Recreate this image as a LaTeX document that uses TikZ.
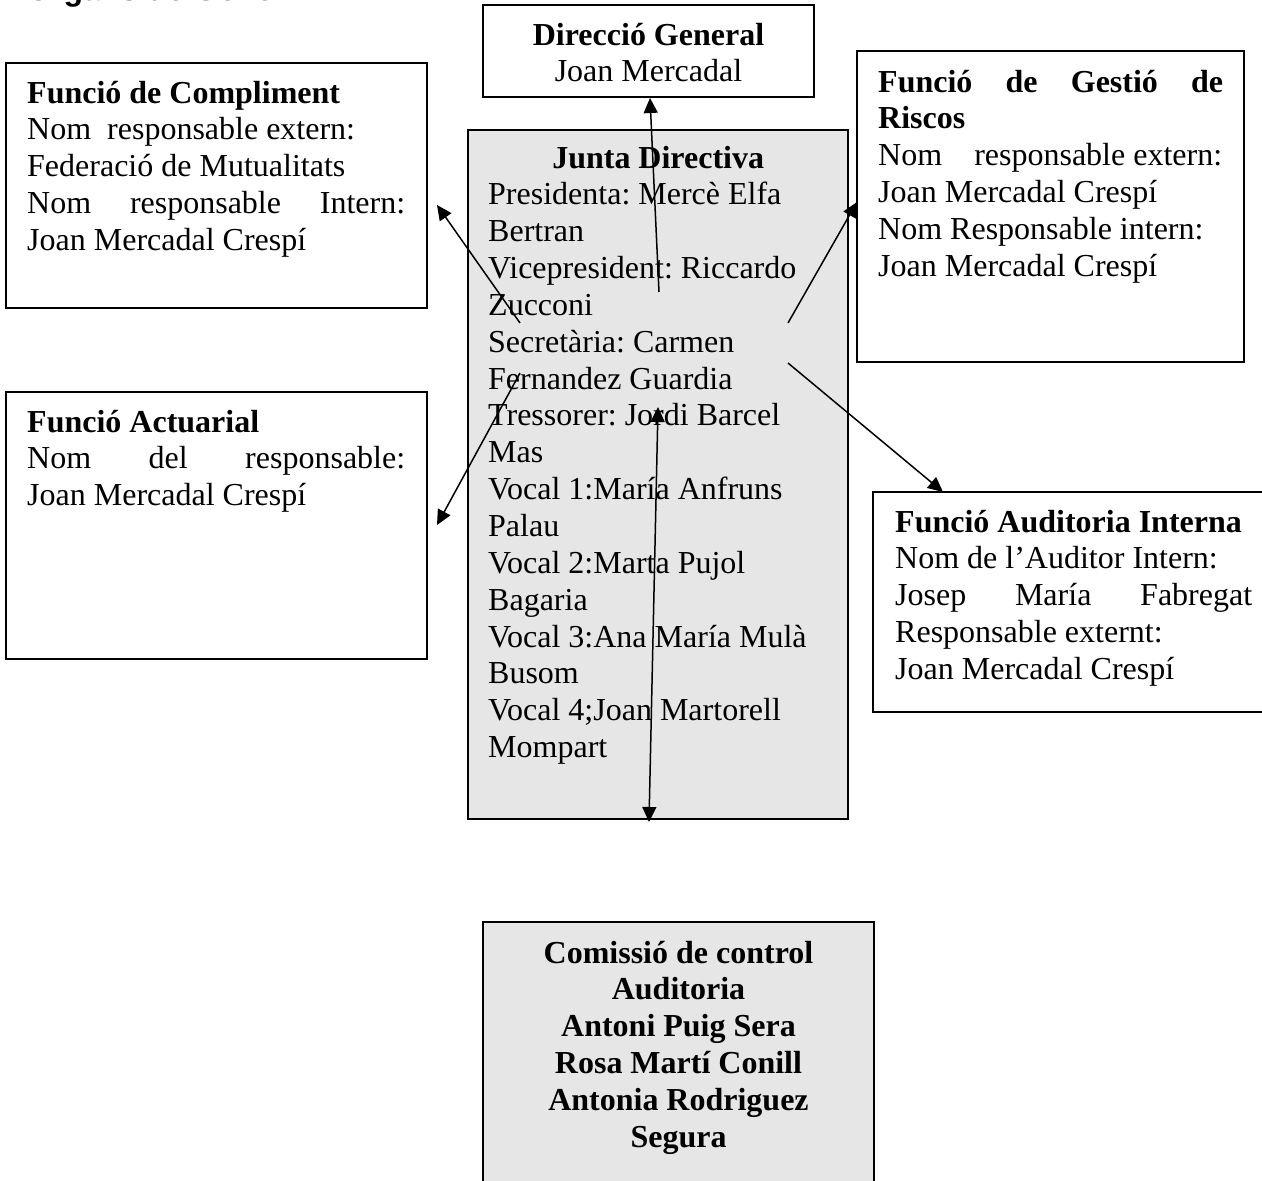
\documentclass[tikz,border=0pt]{standalone}
\usepackage{fontspec}
\setmainfont{Liberation Serif}
\newfontfamily\titlefont{Liberation Sans}
\usetikzlibrary{arrows.meta}
\definecolor{boxgray}{HTML}{E6E6E6}
\frenchspacing
\newcommand\lstack[1]{\vtop{\baselineskip=36.85pt\lineskiplimit=-100pt\lineskip=0pt\relax #1}}
\newcommand\cstack[1]{\vtop{\baselineskip=36.85pt\lineskiplimit=-100pt\lineskip=0pt\relax\halign{\hfil##\hfil\cr #1}}}
\begin{document}
\begin{tikzpicture}[x=1pt,y=-1pt,
  font=\fontsize{32}{36.85}\selectfont\frenchspacing,
  box/.style={draw=black, line width=2.2pt, inner sep=0pt, outer sep=0pt, anchor=north west, rectangle},
  txtl/.style={inner sep=0pt, anchor=base west},
  txtc/.style={inner sep=0pt, anchor=base},
  boldtxt/.style={font=\fontsize{32}{36.85}\selectfont\bfseries\frenchspacing},
  conn/.style={line width=1.5pt, -{Triangle[length=15pt,width=14pt]}},
  conn2/.style={line width=1.5pt, {Triangle[length=15pt,width=14pt]}-{Triangle[length=15pt,width=14pt]}}]
\useasboundingbox (0,0) rectangle (1262,1181);
\clip (0,0) rectangle (1262,1181);
\fill[white] (0,0) rectangle (1262,1181);

% cut-off title
\node[inner sep=0pt, anchor=base west, font=\titlefont\bfseries\fontsize{32}{36}\selectfont] (title) at (26,0) {Òrgans de Govern};

% boxes
\node[box, minimum width=421pt, minimum height=245pt] (comp) at (6,63) {};
\node[box, minimum width=421pt, minimum height=267pt] (act) at (6,392) {};
\node[box, minimum width=331pt, minimum height=92pt] (dir) at (483,5) {};
\node[box, fill=boxgray, minimum width=380pt, minimum height=689pt] (junta) at (468,130) {};
\node[box, minimum width=387pt, minimum height=311pt] (risc) at (857,51) {};
\node[box, minimum width=400pt, minimum height=220pt] (aud) at (873,492) {};
\node[box, fill=boxgray, minimum width=391pt, minimum height=280pt] (com) at (483,922) {};

% texts
\node[txtl] (compT) at (27,103) {\lstack{%
  \hbox{\bfseries Funció de Compliment}
  \hbox{Nom\ \ responsable extern:}
  \hbox{Federació de Mutualitats}
  \hbox to 378pt{Nom\hfill responsable\hfill Intern:}
  \hbox{Joan Mercadal Crespí}}};

\node[txtl] (actT) at (27,432) {\lstack{%
  \hbox{\bfseries Funció Actuarial}
  \hbox to 378pt{Nom\hfill del\hfill responsable:}
  \hbox{Joan Mercadal Crespí}}};

\node[txtc] (dirT) at (648.5,45) {\cstack{\bfseries Direcció General\cr Joan Mercadal\cr}};

\node[txtl] (juntaT) at (488,168) {\lstack{%
  \hbox to 340pt{\hfil\bfseries Junta Directiva\hfil}
  \hbox{Presidenta: Mercè Elfa}
  \hbox{Bertran}
  \hbox{Vicepresident: Riccardo}
  \hbox{Zucconi}
  \hbox{Secretària: Carmen}
  \hbox{Fernandez Guardia}
  \hbox{Tressorer: Jordi Barcel}
  \hbox{Mas}
  \hbox{Vocal 1:María Anfruns}
  \hbox{Palau}
  \hbox{Vocal 2:Marta Pujol}
  \hbox{Bagaria}
  \hbox{Vocal 3:Ana María Mulà}
  \hbox{Busom}
  \hbox{Vocal 4;Joan Martorell}
  \hbox{Mompart}}};

\node[txtl] (riscT) at (878,92) {\lstack{%
  \hbox to 345pt{\bfseries Funció\hfill de\hfill Gestió\hfill de}
  \hbox{\bfseries Riscos}
  \hbox to 344pt{Nom\hfill responsable extern:}
  \hbox{Joan Mercadal Crespí}
  \hbox{Nom Responsable intern:}
  \hbox{Joan Mercadal Crespí}}};

\node[txtl] (audT) at (895,532) {\lstack{%
  \hbox{\bfseries Funció Auditoria Interna}
  \hbox{Nom de l’Auditor Intern:}
  \hbox to 357pt{Josep\hfill María\hfill Fabregat}
  \hbox{Responsable externt:}
  \hbox{Joan Mercadal Crespí}}};

\node[txtc, boldtxt] (comT) at (678.5,963) {\cstack{Comissió de control\cr Auditoria\cr Antoni Puig Sera\cr Rosa Martí Conill\cr Antonia Rodriguez\cr Segura\cr}};

% connector end points
\coordinate (s1) at (520,323); \coordinate (e1) at (437,205);
\coordinate (s2) at (520,373); \coordinate (e2) at (437,525);
\coordinate (s3) at (659,292); \coordinate (e3) at (650,98);
\coordinate (s4) at (788,323); \coordinate (e4) at (857,202);
\coordinate (s5) at (788,363); \coordinate (e5) at (943,492);
\coordinate (s6) at (658,407); \coordinate (e6) at (649,822);

\draw[conn] (s1) -- (e1);
\draw[conn] (s2) -- (e2);
\draw[conn] (s3) -- (e3);
\draw[conn] (s4) -- (e4);
\draw[conn] (s5) -- (e5);
\draw[conn2] (s6) -- (e6);
\end{tikzpicture}
\end{document}
